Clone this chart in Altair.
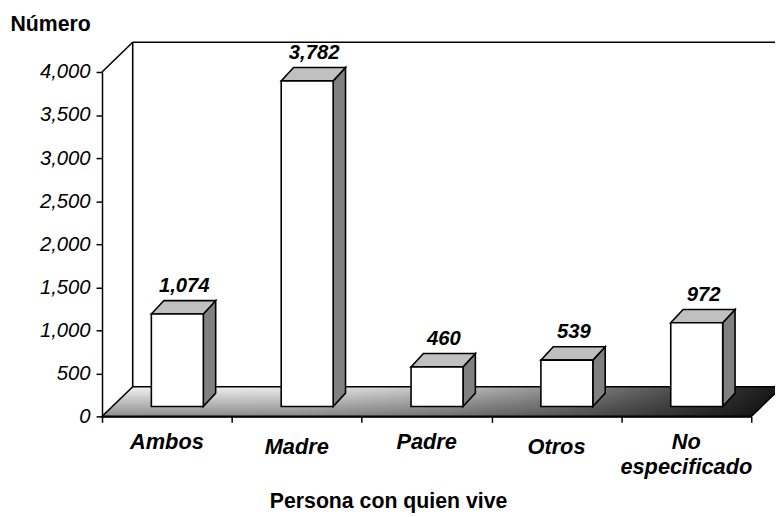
import altair as alt
import pandas as pd

categorias = ["Ambos", "Madre", "Padre", "Otros", "No especificado"]
valores = [1074, 3782, 460, 539, 972]
ticks_y = [0, 500, 1000, 1500, 2000, 2500, 3000, 3500, 4000]

FONT = "Liberation Sans, Arial, sans-serif"
W, H = 656, 348
YMAX = 4000
N = len(categorias)
ux = N / W          # data units per pixel (x)
uy = YMAX / H       # data units per pixel (y)

WALL_X, WALL_Y = 31 * ux, 30 * uy
OFF_X, OFF_Y = 10.5 * ux, 10 * uy
DEP_X, DEP_Y = 12.5 * ux, 13.5 * uy
HALF = 0.2

front, side, top, vlab, clab = [], [], [], [], []
for i, (c, v) in enumerate(zip(categorias, valores)):
    cx = i + 0.5 + OFF_X
    xl, xr = cx - HALF, cx + HALF
    front.append(dict(cat=c, xl=xl, xr=xr, y0=OFF_Y, y1=v + OFF_Y))
    side.append(dict(cat=c, x=xr, ylo=OFF_Y, yhi=v + OFF_Y))
    side.append(dict(cat=c, x=xr + DEP_X, ylo=OFF_Y + DEP_Y, yhi=v + OFF_Y + DEP_Y))
    top.append(dict(cat=c, y=v + OFF_Y, xa=xl, xb=xr))
    top.append(dict(cat=c, y=v + OFF_Y + DEP_Y, xa=xl + DEP_X, xb=xr + DEP_X))
    vlab.append(dict(cat=c, x=cx + 7 * ux, y=v + OFF_Y + DEP_Y, txt=f"{v:,}"))
    clab.append(dict(cat=c, x=i + 0.5, y=0))

floor = pd.DataFrame(dict(y=[0, WALL_Y], xa=[0, WALL_X], xb=[N, N + WALL_X]))
frame = pd.DataFrame(dict(
    x=[0, WALL_X, WALL_X],
    y=[YMAX, WALL_Y, YMAX + WALL_Y],
    x2=[WALL_X, WALL_X, N + WALL_X],
    y2=[YMAX + WALL_Y, YMAX + WALL_Y, YMAX + WALL_Y],
))

xs = alt.Scale(domain=[0, N], nice=False, zero=False)
ys = alt.Scale(domain=[0, YMAX], nice=False)

x_axis = alt.Axis(
    values=list(range(N + 1)), labels=False, grid=False,
    tickSize=6, tickWidth=1.5, tickColor="black",
    domainColor="black", domainWidth=1.5, zindex=1,
    title="Persona con quien vive", titleFont=FONT, titleFontSize=21.5,
    titleFontWeight="bold", titleColor="black",
    titleX=289, titleY=92, titleAlign="center", titleBaseline="alphabetic",
)
y_axis = alt.Axis(
    values=ticks_y, format=",.0f", grid=False,
    labelFont=FONT, labelFontSize=20.5, labelFontStyle="italic", labelColor="black",
    labelPadding=6,
    tickSize=6, tickWidth=1.5, tickColor="black",
    domainColor="black", domainWidth=1.5, zindex=1,
    title="Número", titleFont=FONT, titleFontSize=21.5, titleFontWeight="bold",
    titleColor="black", titleAngle=0, titleX=-93, titleY=-42,
    titleAlign="left", titleBaseline="alphabetic",
)


def X(f):
    return alt.X(f, type="quantitative", scale=xs, axis=x_axis, stack=None)


def Y(f):
    return alt.Y(f, type="quantitative", scale=ys, axis=y_axis, stack=None)


grad_h = alt.LinearGradient(
    gradient="linear", x1=0, x2=1, y1=0, y2=0,
    stops=[
        alt.GradientStop(color="#f4f4f4", offset=0),
        alt.GradientStop(color="#ececec", offset=0.28),
        alt.GradientStop(color="#c8c8c8", offset=0.48),
        alt.GradientStop(color="#959595", offset=0.66),
        alt.GradientStop(color="#4a4a4a", offset=0.86),
        alt.GradientStop(color="#161616", offset=1),
    ],
)
grad_v = alt.LinearGradient(
    gradient="linear", x1=0, x2=0, y1=0, y2=1,
    stops=[
        alt.GradientStop(color="rgba(0,0,0,0)", offset=0),
        alt.GradientStop(color="rgba(0,0,0,0.42)", offset=1),
    ],
)

floor_base = alt.Chart(floor).mark_area(
    orient="horizontal", fill=grad_h, stroke="black", strokeWidth=1.6
).encode(y=Y("y"), x=X("xa"), x2="xb")
floor_shade = alt.Chart(floor).mark_area(
    orient="horizontal", fill=grad_v
).encode(y=Y("y"), x=X("xa"), x2="xb")

walls = alt.Chart(frame).mark_rule(color="black", strokeWidth=1.6).encode(
    x=X("x"), y=Y("y"), x2="x2", y2="y2"
)

sides = alt.Chart(pd.DataFrame(side)).mark_area(
    fill="#808080", stroke="black", strokeWidth=1.6
).encode(x=X("x"), y=Y("ylo"), y2="yhi", detail="cat:N")

tops = alt.Chart(pd.DataFrame(top)).mark_area(
    orient="horizontal", fill="#c0c0c0", stroke="black", strokeWidth=1.6
).encode(y=Y("y"), x=X("xa"), x2="xb", detail="cat:N")

fronts = alt.Chart(pd.DataFrame(front)).mark_rect(
    fill="white", stroke="black", strokeWidth=1.6
).encode(x=X("xl"), x2="xr", y=Y("y0"), y2="y1")

val_text = alt.Chart(pd.DataFrame(vlab)).mark_text(
    font=FONT, fontSize=20.5, fontWeight="bold", fontStyle="italic",
    color="black", baseline="alphabetic", dy=-9
).encode(x=X("x"), y=Y("y"), text="txt:N")

cat_text = alt.Chart(pd.DataFrame(clab)).transform_calculate(
    lbl="split(datum.cat, ' ')"
).mark_text(
    font=FONT, fontSize=22, fontWeight="bold", fontStyle="italic",
    color="black", baseline="alphabetic", lineHeight=25,
    dy=alt.ExprRef("datum.cat === 'Madre' || datum.cat === 'Otros' ? 38.5 : 33"),
).encode(x=X("x"), y=Y("y"), text="lbl:N")

chart = alt.layer(
    floor_base, floor_shade, walls, sides, tops, fronts, val_text, cat_text
).properties(
    width=W, height=H,
    autosize=alt.AutoSizeParams(type="none"),
    padding={"left": 95, "top": 62, "right": 24, "bottom": 99},
    background="white",
).configure_view(strokeWidth=0)

chart.save("out.html", embed_options={"renderer": "svg", "actions": False})
